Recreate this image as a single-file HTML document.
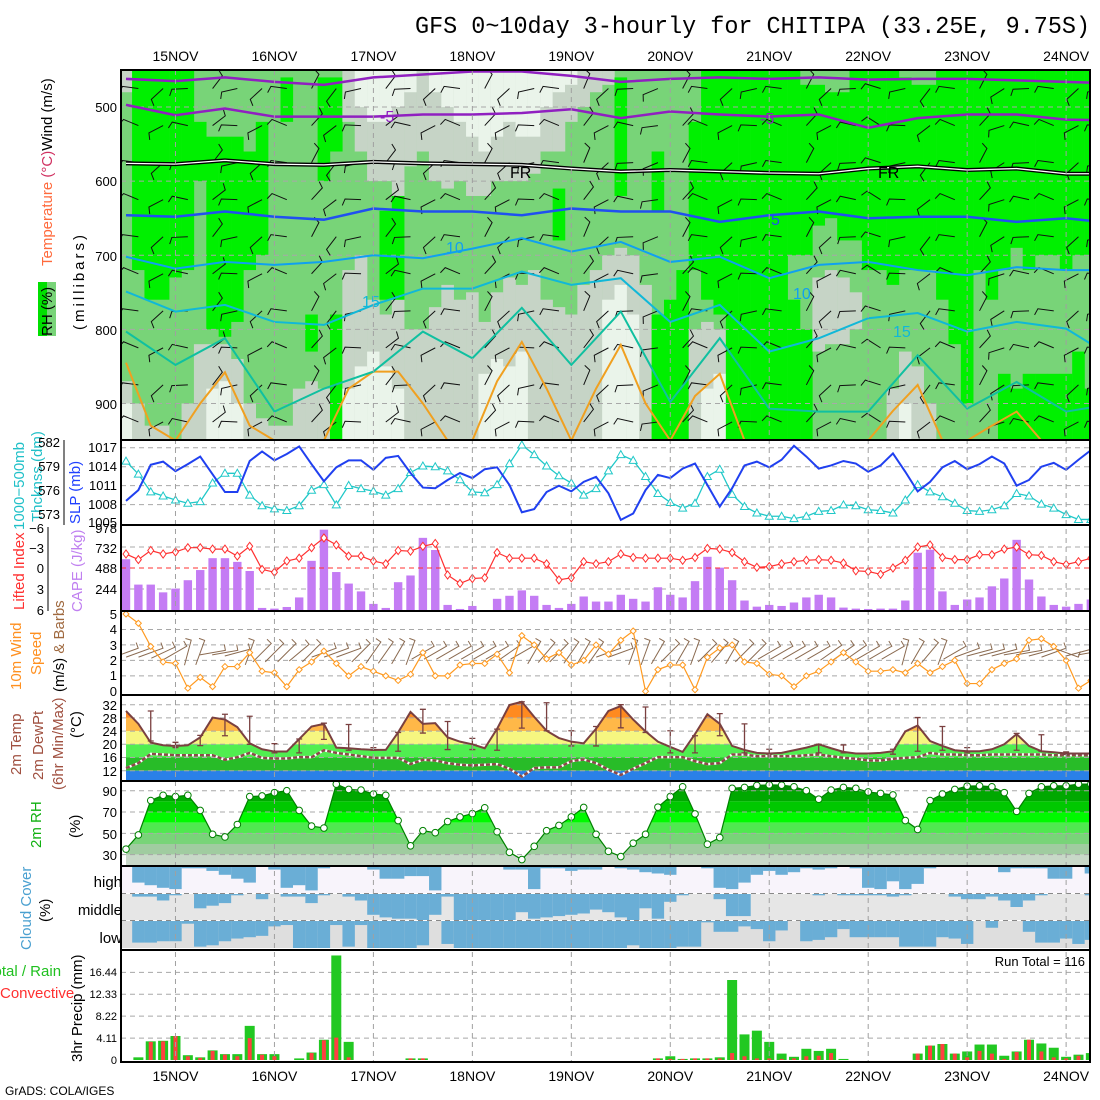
<!DOCTYPE html>
<html><head><meta charset="utf-8">
<style>
body{margin:0;background:#fff}
svg{display:block;font-family:"Liberation Sans",sans-serif}
.tk{font-size:13px;fill:#000}
.tks{font-size:11px;fill:#000}
.lab{font-size:15px}
</style></head><body>
<svg id="c" width="1100" height="1100" viewBox="0 0 1100 1100">
<defs>
<clipPath id="p1clip"><rect x="121" y="70" width="969" height="370"/></clipPath>
<clipPath id="plotclip"><rect x="121" y="440" width="969" height="622"/></clipPath>
</defs>
<rect x="0" y="0" width="1100" height="1100" fill="#fff"/>
<text x="415" y="33" font-family="Liberation Mono, monospace" font-size="24" textLength="675" lengthAdjust="spacingAndGlyphs">GFS 0~10day 3-hourly for CHITIPA (33.25E, 9.75S)</text>
<g id="layers"></g>
<g id="labels" font-size="13">
 <rect x="38" y="282" width="18" height="54" fill="#00e000"/>
 <rect x="47" y="282" width="9" height="54" fill="#78d478"/>
 <text class="lab" transform="translate(52,336) rotate(-90)">RH (%)</text>
 <text class="lab" transform="translate(52,266) rotate(-90)"><tspan fill="#ff6a3c">Temperature </tspan><tspan fill="#d03060">(°C)</tspan><tspan fill="#000">Wind (m/s)</tspan></text>
 <text class="lab" transform="translate(84,330) rotate(-90)" letter-spacing="3">(millibars)</text>
 <text class="tk" x="117" y="112" text-anchor="end">500</text>
 <text class="tk" x="117" y="186" text-anchor="end">600</text>
 <text class="tk" x="117" y="261" text-anchor="end">700</text>
 <text class="tk" x="117" y="335" text-anchor="end">800</text>
 <text class="tk" x="117" y="409" text-anchor="end">900</text>
 <text class="lab" transform="translate(24,530) rotate(-90)" fill="#20c0c8">1000−500mb</text>
 <text class="lab" transform="translate(42,522) rotate(-90)" fill="#20c0c8">Thcknss (dm)</text>
 <text class="lab" transform="translate(80,524) rotate(-90)" fill="#2040ff">SLP (mb)</text>
 <line x1="64" y1="440" x2="64" y2="525" stroke="#000"/>
 <text class="tk" x="60" y="447" text-anchor="end">582</text>
 <text class="tk" x="60" y="471" text-anchor="end">579</text>
 <text class="tk" x="60" y="495" text-anchor="end">576</text>
 <text class="tk" x="60" y="519" text-anchor="end">573</text>
 <text class="tk" x="117" y="452" text-anchor="end">1017</text>
 <text class="tk" x="117" y="471" text-anchor="end">1014</text>
 <text class="tk" x="117" y="490" text-anchor="end">1011</text>
 <text class="tk" x="117" y="509" text-anchor="end">1008</text>
 <text class="tk" x="117" y="527" text-anchor="end">1005</text>
 <text class="lab" transform="translate(24,610) rotate(-90)" fill="#ff3030">Lifted Index</text>
 <text class="lab" transform="translate(82,612) rotate(-90)" fill="#c080f0">CAPE (J/kg)</text>
 <line x1="48" y1="527" x2="48" y2="611" stroke="#000"/>
 <text class="tk" x="44" y="533" text-anchor="end">−6</text>
 <text class="tk" x="44" y="553" text-anchor="end">−3</text>
 <text class="tk" x="44" y="573" text-anchor="end">0</text>
 <text class="tk" x="44" y="594" text-anchor="end">3</text>
 <text class="tk" x="44" y="615" text-anchor="end">6</text>
 <text class="tk" x="117" y="533" text-anchor="end">978</text>
 <text class="tk" x="117" y="553" text-anchor="end">732</text>
 <text class="tk" x="117" y="573" text-anchor="end">488</text>
 <text class="tk" x="117" y="594" text-anchor="end">244</text>
 <text class="lab" transform="translate(21,690) rotate(-90)" fill="#ff9020">10m Wind</text>
 <text class="lab" transform="translate(41,675) rotate(-90)" fill="#ff9020">Speed</text>
 <text class="lab" transform="translate(64,692) rotate(-90)"><tspan fill="#000">(m/s) </tspan><tspan fill="#a06a40">&amp; Barbs</tspan></text>
 <text class="tk" x="117" y="619" text-anchor="end">5</text>
 <text class="tk" x="117" y="634" text-anchor="end">4</text>
 <text class="tk" x="117" y="650" text-anchor="end">3</text>
 <text class="tk" x="117" y="665" text-anchor="end">2</text>
 <text class="tk" x="117" y="680" text-anchor="end">1</text>
 <text class="tk" x="117" y="696" text-anchor="end">0</text>
 <text class="lab" transform="translate(21,775) rotate(-90)" fill="#a05040">2m Temp</text>
 <text class="lab" transform="translate(43,780) rotate(-90)" fill="#a05040">2m DewPt</text>
 <text class="lab" transform="translate(63,790) rotate(-90)" fill="#a05040">(6hr Min/Max)</text>
 <text class="lab" transform="translate(81,738) rotate(-90)">(°C)</text>
 <text class="tk" x="117" y="710" text-anchor="end">32</text>
 <text class="tk" x="117" y="723" text-anchor="end">28</text>
 <text class="tk" x="117" y="736" text-anchor="end">24</text>
 <text class="tk" x="117" y="749" text-anchor="end">20</text>
 <text class="tk" x="117" y="762" text-anchor="end">16</text>
 <text class="tk" x="117" y="776" text-anchor="end">12</text>
 <text class="lab" transform="translate(41,848) rotate(-90)" fill="#10b010">2m RH</text>
 <text class="lab" transform="translate(80,838) rotate(-90)">(%)</text>
 <text class="tk" x="117" y="796" text-anchor="end">90</text>
 <text class="tk" x="117" y="817" text-anchor="end">70</text>
 <text class="tk" x="117" y="839" text-anchor="end">50</text>
 <text class="tk" x="117" y="860" text-anchor="end">30</text>
 <text class="lab" transform="translate(31,950) rotate(-90)" fill="#4aa0d0">Cloud Cover</text>
 <text class="lab" transform="translate(50,922) rotate(-90)">(%)</text>
 <text class="lab" x="122" y="887" text-anchor="end">high</text>
 <text class="lab" x="122" y="915" text-anchor="end">middle</text>
 <text class="lab" x="122" y="943" text-anchor="end">low</text>
 <text class="lab" x="-14" y="976" fill="#20c020">Total / Rain</text>
 <text class="lab" x="0" y="998" fill="#ff3030">Convective</text>
 <text class="lab" transform="translate(82,1062) rotate(-90)">3hr Precip (mm)</text>
 <text class="tks" x="117" y="976" text-anchor="end">16.44</text>
 <text class="tks" x="117" y="998" text-anchor="end">12.33</text>
 <text class="tks" x="117" y="1020" text-anchor="end">8.22</text>
 <text class="tks" x="117" y="1042" text-anchor="end">4.11</text>
 <text class="tks" x="117" y="1064" text-anchor="end">0</text>
 <text x="1085" y="966" font-size="13" text-anchor="end">Run Total = 116</text>
 <text x="5" y="1095" font-size="12">GrADS: COLA/IGES</text>
</g>
</svg>
<script>
const days = ["15NOV","16NOV","17NOV","18NOV","19NOV","20NOV","21NOV","22NOV","23NOV","24NOV"];
const slp = [1008.6,1010.3,1014.3,1014.8,1013.3,1014.4,1015.6,1012.8,1010,1010,1014.9,1016.4,1015,1016,1017.2,1014.4,1011.7,1013.9,1015,1015,1013.5,1015.4,1015.7,1013,1010.7,1010.6,1011.9,1013,1012.2,1013.6,1013.9,1011.1,1006.8,1007.3,1010,
 1011,1010.1,1011.6,1012.4,1009.8,1005.6,1006.6,1010.3,1012.7,1012.2,1013.7,1014.5,1011.1,1007.7,1010.6,1014.2,1014.8,1013.9,1015.1,1017.3,1015.6,1013.7,1014.2,1014.9,1014.5,1013.2,1014.2,1016.1,1013.2,1010.1,1011.6,1013.9,1014.9,1013.6,1014.4,1015.6,1014.5,1011,1011.9,1014,1014.6,1013.5,1015.1,1016.6];
const thick = [579.6,578,575.8,575.3,574.8,574.4,574.6,576.9,578.1,578.1,575.4,574.1,573.7,573.5,574.1,576,576.7,574.2,576.6,576.2,575.9,575.4,576.2,578.2,579,578.9,578.4,577.3,575.8,575.7,576.7,579.3,581.6,580.4,579,
 577.8,576.9,575.4,576.2,578.4,580.4,579.7,577.7,575.6,574.5,573.8,574.4,577.7,578.6,575.5,574,573.2,572.8,572.8,572.5,572.8,573.4,573.5,574.2,574.1,573.6,573.5,573.2,574.8,576.7,575.8,575.2,574.4,573.5,573.4,573.6,574.1,575.6,575.3,574.3,573.8,573,572.4,572.4];
const liftedIndex = [-2.0,-1.2,-2.5,-2.0,-2.3,-2.9,-2.9,-2.7,-2.7,-1.7,-3.1,0.2,0.6,-1.0,-1.4,-2.9,-4.3,-3.3,-1.7,-1.7,-1.0,-0.6,-2.5,-2.4,-3.1,-3.5,1.0,2.2,1.5,1.4,-2.2,-1.4,-1.4,-1.4,-0.6,
 1.7,1.4,-0.9,-0.6,-0.9,-2.0,-1.5,-1.4,-1.4,-1.4,-1.1,-1.5,-2.8,-2.7,-2.2,-0.9,-0.1,-0.2,-0.6,-0.9,-1.1,-1.2,-1.1,-0.7,0.4,0.5,0.9,0,-1.1,-3.0,-3.3,-1.5,-1.2,-1.2,-1.9,-1.9,-2.7,-3.0,-1.9,-1.8,-0.9,-0.5,-0.9,-1.4];
const cape = [590,295,295,205,248,346,464,602,602,559,453,24,16,35,146,571,933,441,307,216,71,24,323,401,838,697,59,12,47,0,130,165,228,165,59,24,71,157,98,
 98,177,130,98,264,177,146,335,618,492,346,110,39,59,47,87,146,177,146,28,16,12,16,16,110,665,700,216,59,122,146,275,366,815,354,157,59,39,71,122];
const windSpeed = [5.0,4.4,2.9,1.9,1.8,0.2,0.9,0.3,1.6,1.6,2.5,1.3,1.2,0.3,1.4,1.9,2.6,1.8,1.0,1.6,1.3,1.0,0.7,1.1,2.5,1.0,1.0,1.7,1.8,1.8,2.4,1.2,3.6,3.0,2.1,2.5,1.7,2.0,3.0,2.4,3.3,3.9,0.0,1.4,1.7,1.7,0.1,2.2,2.8,3.0,1.9,1.8,1.1,1.0,0.3,1.0,1.3,1.9,2.5,1.9,1.3,1.3,1.4,1.2,1.8,1.2,1.6,2.0,0.5,0.5,1.4,1.8,2.1,3.3,3.4,2.9,2.0,0.2,0.7];
const windAngle = [20,20,20,25,30, 75,70,10,10, 15,70,45,45, 45,40,45,20, 20,20,45,55, 55,60,70,30, 30,30,30,30, 30,30,35,30, 60,50,45,55, 60,55,20,20, 70,70,60,45, 60,70,45,50, 60,45,45,30, 30,30,30,30, 35,35,35,30, 30,30,75,60, 50,70,30,20, 15,15,15,10, 10,15,20,-20, 15,10];
const temp2m = [30.1,26.2,20.5,19.7,19.5,19.7,22.1,28.1,27.5,25.2,20.3,18.5,17.8,17.8,21.6,25.4,26.2,19.0,18.8,18.5,18.3,18.3,23.6,29.8,26.2,26.4,22.1,20.8,20.0,18.8,24.7,31.9,32.9,28.3,24.1,21.9,
 20.8,20.3,24.7,30.1,31.6,27.5,23.9,20.8,19.2,17.7,23.1,29.1,26.2,19.5,18.3,17.4,17.2,17.4,18.2,19.0,20.0,18.8,17.7,17.2,17.2,17.4,17.9,23.9,25.7,21.0,19.5,18.2,17.9,17.9,18.5,20.0,23.1,19.5,17.9,17.6,17.2,17.2,17.2];
const dew2m = [12.8,14.3,17.1,16.9,16.7,16.7,16.7,16.7,15.3,16.1,17.4,15.9,15.7,15.7,16.1,16.1,18.2,17.4,16.9,16.4,15.9,15.9,15.9,14.0,15.3,15.1,14.3,13.8,13.6,13.8,14.0,12.6,10.2,12.8,13.0,13.0,
 14.9,15.4,14.3,12.3,10.7,12.6,14.3,16.1,16.1,16.1,14.9,14.0,14.3,16.9,16.9,16.4,16.4,16.4,16.4,16.7,16.9,16.4,15.9,15.6,15.1,15.1,15.6,15.9,16.1,17.4,16.9,16.9,16.7,16.7,16.9,16.9,16.9,16.9,16.9,16.7,16.7,16.7,16.7];
const mmIdx = [2,4,6,8,10,12,14,16,18,20,22,24,26,28,30,32,34,36,38,40,42,44,46,48,50,52,56,58,62,64,66,68,72,74,76];
const mmMax = [30.1,20.6,22.7,29.1,28.5,20.2,21.6,26.4,26.0,19.0,23.6,30.6,26.9,21.8,24.6,32.9,32.6,24.1,25.4,32.0,31.3,24.1,22.6,29.3,26.2,18.5,20.0,19.8,18.5,28.1,25.4,19.0,23.3,22.9,17.7];
const mmMin = [21.0,19.0,19.6,22.6,20.0,17.4,17.4,21.5,18.2,18.2,17.9,23.4,18.4,18.4,18.2,24.9,24.1,19.5,19.5,25.0,23.6,17.4,17.4,22.6,17.4,17.0,17.4,17.4,17.0,17.9,18.2,17.4,18.2,17.9,16.9];
const rh2m = [35.2,48.5,80.8,85.7,84.5,85.7,71.5,49.1,46.6,58.3,84.5,85.1,88.2,90,71.5,56.8,55.0,96.2,91.2,90.6,86.9,85.7,62.0,38.3,52.5,50.6,61.1,65.4,68.5,74.0,51.5,32.2,25.4,37.8,52.5,57.4,65.4,74.3,49.1,
 33.1,28.2,40.8,49.1,74.6,84.5,93.7,68.2,39.8,46.0,92.2,93.1,94.9,95.5,95.2,93.7,90,82,90.6,93.1,92.2,88.8,87.5,86,62,53.7,80.8,86.9,91.2,94.3,94.6,93.7,88.2,70.6,87.5,93.7,94.6,94.6,96.2,96.2];
const cloudHigh = [0.6,0.7,0.8,0.85,0.05,0.05,0.15,0.3,0.45,0.6,0,0.1,0.8,0.7,0.9,0.05,0,0,0,0.1,0.45,0.45,0.35,0.35,0.9,0,0,0,0,0,0.1,0.1,0.85,0.05,0.05,0.15,0.1,0.1,0,0.05,0.1,0.2,0.25,0.3,0,0,0.05,0.8,0.85,0.6,0.3,0.15,0.3,0.2,0.05,0.1,0.05,0,0.05,0.8,0.85,0.55,0.85,0.65,0.05,0,0,0,0,0,0.2,0.05,0.05,0.05,0.45,0.45,0,0.25,0.05];
const cloudMid = [0.1,0.1,0.25,0.05,0,0.55,0.45,0.35,0.05,0,0.2,0,0.1,0.1,0.35,0.05,0,0.1,0.25,0.8,0.9,0.95,0.95,1,0.8,0.1,1,1,1,1,1,0.7,0.95,0.9,0.85,0.8,0.75,0.6,0.7,0.9,1,0.55,0.95,0.3,0.05,0,0,0.2,0.85,0.85,0,0,0,0,0,0.05,0,0.05,0.05,0.05,0.05,0.1,0.05,0,0,0,0.1,0.2,0.2,0.1,0.25,0.5,0.25,0.05,0,0,0,0.05,0];
const cloudLow = [0.8,0.8,0.75,0.75,0.1,0.95,0.9,0.75,0.65,0.6,0.55,0.2,0.15,1,1,1,0.15,0.95,0.15,1,1,1,1,0.9,0,0.85,1,1,1,1,1,1,1,1,1,1,1,1,1,1,0.9,1,1,1,0.95,0.95,0.05,0.4,0.4,0.2,0.3,0.75,0.35,0,0.75,0.7,0.6,0.3,0.6,0.6,0.6,0.6,0.95,0.95,0.95,0.6,0.65,0.85,0,0.25,0,0,0.4,0.8,0.8,0.65,0.85,0.7,0.5];
const precipTotal = [0,0.5,3.5,3.6,4.5,0.9,0.5,1.8,1.1,1.1,6.4,1.1,1.1,0,0.3,1.4,3.8,19.6,3.4,0,0,0,0,0.3,0.3,0,0,0,0,0,0,0,0,0,0,0,0,0,0,0,0,0,0,0.3,0.7,0.2,0.3,0.3,0.5,15,4.8,5.5,3.4,1.2,0.6,2.1,1.7,2.1,0.2,0,0,0,0,0,1.2,2.7,3.0,1.2,1.6,2.9,2.9,0.8,1.6,3.8,3.1,2.3,0.6,1.0,1.3];
const precipConv = [0,0,3.4,3.5,4.5,0.7,0.4,1.7,1.0,0.7,4.1,1.0,0.7,0,0,1.3,3.7,4.2,0.5,0,0,0,0,0.3,0.3,0,0,0,0,0,0,0,0,0,0,0,0,0,0,0,0,0,0,0.3,0.2,0.2,0.3,0.3,0.3,1.3,0.7,0.3,0.3,0.2,0.3,0.7,0.8,1.3,0,0,0,0,0,0,1.2,2.7,3.0,1.2,0.5,1.7,1.2,0.2,1.5,3.8,1.6,0.5,0.3,0.8,0];
const topGray = [480,0,0,0,0,0,0,0,0,0,0,0,0,0,0,0,0,0,520,560,600,600,620,580,560,600,610,600,620,620,600,600,600,590,560,560,520,500,480,470,0,0,0,0,0,0,0,0,0,0,0,0,0,0,0,0,0,0,0,0,0,0,0,0,0,0,0,0,0,0,0,0,0,0,0,0,0,0,0];
const topLight = [0,0,0,0,0,0,0,0,0,0,0,0,0,0,0,0,0,0,0,500,520,520,500,480,0,480,500,520,540,560,540,520,540,540,500,480,470,0,0,0,0,0,0,0,0,0,0,0,0,0,0,0,0,0,0,0,0,0,0,0,0,0,0,0,0,0,0,0,0,0,0,0,0,0,0,0,0,0,0];
const brightTop = [0,450,450,450,450,450,520,540,540,540,560,520,0,460,0,780,460,460,0,0,0,640,620,0,0,0,0,0,0,0,0,0,0,0,0,610,0,0,0,0,460,0,0,560,0,0,520,450,450,450,450,450,450,450,450,470,470,480,480,450,450,450,450,460,470,470,450,450,450,450,450,450,450,450,450,450,450,450,450];
const brightBot = [0,720,760,760,730,720,600,800,810,790,720,700,0,520,0,830,600,560,0,0,0,760,760,0,0,0,0,0,0,0,0,0,0,0,0,680,0,0,0,0,620,0,0,640,0,0,720,760,780,950,950,950,950,950,700,700,660,650,680,680,720,720,740,720,720,720,760,820,900,720,760,720,690,720,700,700,720,700,700];
const bright2Top = [0,0,0,0,0,0,0,0,0,0,0,0,0,0,0,0,0,780,0,0,0,0,0,0,0,0,0,0,0,0,0,0,0,0,0,0,0,0,0,0,0,0,0,780,760,720,0,0,0,0,0,0,0,0,760,800,0,0,0,0,0,0,0,0,0,0,0,0,0,0,0,860,880,860,860,860,860,830,880];
const grayBot = [870,900,930,930,0,900,820,820,820,840,900,920,930,930,880,870,880,0,720,700,760,780,760,800,800,770,740,760,750,790,750,730,740,720,760,770,780,740,720,700,690,700,740,0,0,0,800,790,800,0,0,0,0,0,0,0,0,0,0,0,0,0,880,830,850,900,0,0,0,0,0,0,0,0,0,0,0,0,0];
const lightBot = [900,0,0,0,0,0,0,880,870,900,0,0,0,0,0,0,0,0,880,850,830,850,880,0,0,0,0,0,0,860,840,850,830,0,0,0,0,0,0,760,740,780,0,0,0,0,0,880,860,0,0,0,0,0,0,0,0,0,0,0,0,0,0,900,0,0,0,0,0,0,0,0,0,0,0,0,0,0,0];
const midGrayTop = [0,0,0,0,0,0,0,0,0,0,0,0,0,0,0,0,0,0,0,0,0,0,0,0,0,0,0,0,0,0,0,0,0,0,0,0,0,0,0,0,0,0,0,0,0,0,0,0,0,0,0,0,0,0,0,0,730,720,730,750,0,0,0,0,0,0,0,0,0,0,0,0,0,0,0,0,0,0,0];
const midGrayBot = [0,0,0,0,0,0,0,0,0,0,0,0,0,0,0,0,0,0,0,0,0,0,0,0,0,0,0,0,0,0,0,0,0,0,0,0,0,0,0,0,0,0,0,0,0,0,0,0,0,0,0,0,0,0,0,0,830,820,820,800,0,0,0,0,0,0,0,0,0,0,0,0,0,0,0,0,0,0,0];
const isoTopPurple = [462,465,460,466,470,460,456,452,452,458,466,462,460,462,460,463,462,462,464,466,468];
const isoMinus5 = [497,511,502,513,513,513,510,510,508,503,515,506,510,513,510,528,515,510,510,517,518];
const isoFreeze = [576,577,572,577,578,574,576,577,578,583,587,585,587,589,590,583,580,585,583,590,590];
const isoPlus5 = [646,648,641,648,652,637,641,641,646,637,641,641,655,646,641,650,648,648,655,650,657];
const isoPlus10 = [702,718,709,713,709,700,704,691,677,695,682,709,702,731,713,709,720,727,716,720,720];
const isoPlus15 = [749,776,767,790,794,767,745,745,722,740,731,790,767,830,812,785,778,803,790,799,840];
const isoPlus18 = [803,848,812,911,880,857,803,839,771,848,776,898,812,907,911,911,835,907,871,911,900];
const isoPlus20 = [845,930,950,900,858,930,950,950,950,880,857,857,900,950,950,870,817,880,950,880,821,900,950,890,860,950,950,950,950,950,950,910,875,950,950,930,911,950,950,950];
const barbAngle = [150,200,160,30,170,200,150,40,210,170,30,160,200,150,40,200,170,150,45,200,160,180,40,150,200,170,150,40,200,160,140,170,210,150,40,190,160,150,200,170];

const svg = document.getElementById('c');
const layers = document.getElementById('layers');
const NS = 'http://www.w3.org/2000/svg';
function mk(tag, attrs, parent){const e=document.createElementNS(NS,tag);for(const k in attrs)e.setAttribute(k,attrs[k]);(parent||layers).appendChild(e);return e;}
const X = i => 126 + 12.37*i;
const Pp = p => 70 + (p-450)*0.741;
const Yslp = v => 447.7 + (1017-v)*6.33;
const Yth = v => 441.7 + (582-v)*8.1;
const Ycape = v => 610 - v*0.0861;
const Yli = v => 568 + v*7;
const Yws = v => 691.3 - v*15.46;
const Yt = v => 704.7 + (32-v)*3.3;
const Yrh = v => 790.7 + (90-v)*1.066;
const Ypr = v => 1060 - v*5.333;
const N = temp2m.length;

const g1 = mk('g',{'clip-path':'url(#p1clip)'});


const bg1 = mk('rect',{x:121,y:70,width:969,height:370,fill:'#78d478'},g1);


function col(i,p0,p1,fill,name){
  const r = mk('rect',{x:X(i)-6.3,y:Pp(p0),width:12.6,height:Math.max(0,Pp(p1)-Pp(p0)),fill:fill},g1);
  
  
}
for(let i=0;i<N;i++){
  if(topGray[i]) col(i,440,topGray[i],'#c6d4c6','rh-dry-upper');
  if(topLight[i]) col(i,440,topLight[i],'#eaf4ea','rh-very-dry-upper');
  if(grayBot[i]) col(i,grayBot[i],960,'#c6d4c6','rh-dry-lower');
  if(lightBot[i]) col(i,lightBot[i],960,'#eaf4ea','rh-very-dry-lower');
  if(midGrayTop[i]) col(i,midGrayTop[i],midGrayBot[i],'#c6d4c6','rh-dry-mid');
  if(brightTop[i]) col(i,brightTop[i],brightBot[i],'#00f000','rh-moist');
  if(bright2Top[i]) col(i,bright2Top[i],960,'#00f000','rh-moist-lower');
}
[500,600,700,800,900].forEach(p=>{
  const l=mk('line',{x1:121,x2:1090,y1:Pp(p),y2:Pp(p),stroke:'#a8a8a8','stroke-dasharray':'5,4'},g1);
  
  
});
const barbG = mk('g',{stroke:'#111','stroke-width':1,fill:'none'},g1);


for(let k=0;k<barbAngle.length;k++){
  for(let p=475;p<=925;p+=50){
    const a=(barbAngle[k]+((p/50)%2)*15)*Math.PI/180;
    const x0=X(2*k+1), y0=Pp(p);
    const x1=x0+16*Math.cos(a), y1=y0-16*Math.sin(a);
    const b=a+Math.PI/2.6;
    const pl=mk('polyline',{points:`${x0},${y0} ${x1},${y1} ${x1+7*Math.cos(b)},${y1-7*Math.sin(b)}`},barbG);
    
    
  }
}
function isoLine(arr,step,color,w,name){
  const pts=arr.map((p,k)=>`${X(k*step)},${Pp(p)}`).join(' ');
  const l=mk('polyline',{points:pts,fill:'none',stroke:color,'stroke-width':w},g1);
  
  
  return l;
}
isoLine(isoPlus20,2,'#f0a020',2,'isotherm-20');
isoLine(isoPlus18,4,'#10c0a0',2,'isotherm-18');
isoLine(isoPlus15,4,'#10b8d8',2,'isotherm-15');
isoLine(isoPlus10,4,'#10a0f0',2,'isotherm-10');
isoLine(isoPlus5,4,'#2050f0',2.5,'isotherm-5');
isoLine(isoFreeze,4,'#000',4,'freezing-level');
isoLine(isoFreeze,4,'#fff',1.3,'freezing-level-inner');
isoLine(isoMinus5,4,'#9020c0',2.5,'isotherm-minus5');
isoLine(isoTopPurple,4,'#9020c0',2.5,'isotherm-minus10');
[['-5',380,122,'#9020c0'],['-5',760,124,'#9020c0'],['FR',510,178,'#000'],['FR',878,178,'#000'],['5',771,225,'#2050f0'],['10',446,253,'#10a0f0'],['10',793,299,'#10a0f0'],['15',362,307,'#10b8d8'],['15',893,337,'#10b8d8']].forEach(d=>{
  const t=mk('text',{x:d[1],y:d[2],fill:d[3],'font-size':16,stroke:'none'},g1);
  t.textContent=d[0];
  
  
});

const g2 = mk('g',{'clip-path':'url(#plotclip)'});


function hgrid(y,x1,name,color){
  const l=mk('line',{x1:121,x2:1090,y1:y,y2:y,stroke:color||'#a8a8a8','stroke-dasharray':'5,4'},g2);
  
  
}
const defs = svg.querySelector('defs');
const cpT = mk('clipPath',{id:'tclip'},defs);
mk('polygon',{points:`${X(0)},781 `+temp2m.map((v,i)=>`${X(i)},${Yt(v)}`).join(' ')+` ${X(N-1)},781`},cpT);
const tb = mk('g',{'clip-path':'url(#tclip)'},g2);


[[40,32,'#f06010'],[32,28,'#ff8a20'],[28,24,'#ffb848'],[24,20,'#f6f680'],[20,16,'#50ee50'],[16,12,'#28bc28'],[12,0,'#2a80e8']].forEach(b=>{
  const r=mk('rect',{x:121,width:969,y:Yt(b[0]),height:Yt(b[1])-Yt(b[0]),fill:b[2]},tb);
  
  
});
const cpR = mk('clipPath',{id:'rclip'},defs);
mk('polygon',{points:`${X(0)},866 `+rh2m.map((v,i)=>`${X(i)},${Yrh(v)}`).join(' ')+` ${X(N-1)},866`},cpR);
const rb = mk('g',{'clip-path':'url(#rclip)'},g2);


[[110,90,'#008c00'],[90,80,'#00a800'],[80,70,'#00c800'],[70,60,'#00fa00'],[60,50,'#50e850'],[50,40,'#78d478'],[40,30,'#a0cca0'],[30,0,'#c8d8c8']].forEach(b=>{
  const r=mk('rect',{x:121,width:969,y:Yrh(b[0]),height:Yrh(b[1])-Yrh(b[0]),fill:b[2]},rb);
  
  
});
[[867,893,'#f8f4fb',cloudHigh,'cloud-high'],[894,920,'#e6e6e6',cloudMid,'cloud-middle'],[921,948,'#dedede',cloudLow,'cloud-low']].forEach(r=>{
  const bgr=mk('rect',{x:121,y:r[0],width:969,height:r[1]-r[0],fill:r[2]},g2);
  
  
  r[3].forEach((v,i)=>{
    if(v<=0) return;
    const b=mk('rect',{x:X(i+1)-6.2,y:r[0],width:12.4,height:(r[1]-r[0])*v,fill:'#6aaed6'},g2);
    
    
  });
});
[893.5,920.5].forEach(y=>hgrid(y,0,'cloud-row-divider','#888'));
[1017,1014,1011,1008].forEach(v=>hgrid(Yslp(v),0,'slp-gridline'));
[732,488,244].forEach(v=>hgrid(Ycape(v),0,'cape-gridline'));
[1,2,3,4].forEach(v=>hgrid(Yws(v),0,'wind-gridline'));
[32,28,24,20,16,12].forEach(v=>hgrid(Yt(v),0,'temp-gridline'));
[90,70,50,30].forEach(v=>hgrid(Yrh(v),0,'rh-gridline'));
[16.44,12.33,8.22,4.11].forEach(v=>hgrid(Ypr(v),0,'precip-gridline'));
days.forEach((d,k)=>{
  const x=X(4+8*k);
  const l=mk('line',{x1:x,x2:x,y1:70,y2:1062,stroke:'#a0a0a0','stroke-dasharray':'5,4'});
  
  
  const t1=mk('text',{x:x,y:61,'font-size':14,'text-anchor':'middle'});
  t1.textContent=d;
  
  
  const t2=mk('text',{x:x,y:1081,'font-size':14,'text-anchor':'middle'});
  t2.textContent=d;
  
  
});
const thL=mk('polyline',{points:thick.map((v,i)=>`${X(i)},${Yth(v)}`).join(' '),fill:'none',stroke:'#20c8c8','stroke-width':1.3},g2);


thick.forEach((v,i)=>{
  const y=Yth(v),x=X(i);
  const m=mk('polygon',{points:`${x},${y-4} ${x-4},${y+3} ${x+4},${y+3}`,fill:'#fff',stroke:'#20c8c8'},g2);
  
  
});
const slpL=mk('polyline',{points:slp.map((v,i)=>`${X(i)},${Yslp(v)}`).join(' '),fill:'none',stroke:'#2040f0','stroke-width':2},g2);


cape.forEach((v,i)=>{
  const b=mk('rect',{x:X(i)-4.2,y:Ycape(v),width:8.4,height:610-Ycape(v),fill:'#c47cf4'},g2);
  
  
});
hgrid(Yli(0),0,'li-zero-line','#ff3030');
const liL=mk('polyline',{points:liftedIndex.map((v,i)=>`${X(i)},${Yli(v)}`).join(' '),fill:'none',stroke:'#ff3030','stroke-width':1.2},g2);


liftedIndex.forEach((v,i)=>{
  const x=X(i),y=Yli(v);
  const m=mk('polygon',{points:`${x-3},${y} ${x},${y-4} ${x+3},${y} ${x},${y+4}`,fill:'#fff',stroke:'#ff3030'},g2);
  
  
});
windAngle.forEach((a,i)=>{
  const r=a*Math.PI/180, x=X(i), y=Yws(2.5);
  const dx=13*Math.cos(r), dy=13*Math.sin(r);
  const b=mk('polyline',{points:`${x-dx},${y+dy} ${x+dx},${y-dy} ${x+dx-6*Math.sin(r)},${y-dy-6*Math.cos(r)}`,fill:'none',stroke:'#8a6a50','stroke-width':1},g2);
  
  
});
const wsL=mk('polyline',{points:windSpeed.map((v,i)=>`${X(i)},${Yws(v)}`).join(' '),fill:'none',stroke:'#ff9a20','stroke-width':1.2},g2);


windSpeed.forEach((v,i)=>{
  const x=X(i),y=Yws(v);
  const m=mk('polygon',{points:`${x-3},${y} ${x},${y-3} ${x+3},${y} ${x},${y+3}`,fill:'#fff',stroke:'#ff9a20'},g2);
  
  
});
const dwW=mk('polyline',{points:dew2m.map((v,i)=>`${X(i)},${Yt(v)}`).join(' '),fill:'none',stroke:'#fff','stroke-width':2.5},g2);


const dw=mk('polyline',{points:dew2m.map((v,i)=>`${X(i)},${Yt(v)}`).join(' '),fill:'none',stroke:'#8a4a4a','stroke-width':2.5,'stroke-dasharray':'4,2'},g2);


const tl=mk('polyline',{points:temp2m.map((v,i)=>`${X(i)},${Yt(v)}`).join(' '),fill:'none',stroke:'#7a4040','stroke-width':2},g2);


mmIdx.forEach((i,k)=>{
  const x=X(i), y1=Yt(mmMax[k]), y2=Yt(mmMin[k]);
  const w=mk('path',{d:`M${x-3},${y1}H${x+3}M${x},${y1}V${y2}M${x-3},${y2}H${x+3}`,stroke:'#7a4040','stroke-width':1.3,fill:'none'},g2);
  
  
});
const rl=mk('polyline',{points:rh2m.map((v,i)=>`${X(i)},${Yrh(v)}`).join(' '),fill:'none',stroke:'#008000','stroke-width':1.2},g2);


rh2m.forEach((v,i)=>{
  const c=mk('circle',{cx:X(i),cy:Yrh(v),r:3.3,fill:'#fff',stroke:'#008000'},g2);
  
  
});
precipTotal.forEach((v,i)=>{
  if(v<=0) return;
  const b=mk('rect',{x:X(i)-5,y:Ypr(v),width:10,height:1060-Ypr(v),fill:'#22c822'},g2);
  
  
  const c=precipConv[i];
  if(c>0){
    const r=mk('rect',{x:X(i)-2,y:Ypr(c),width:4,height:1060-Ypr(c),fill:'#ff4040'},g2);
    
    
  }
});
[[70,440],[440,525],[525,611],[611,695],[695,781],[781,866],[866,950],[950,1062]].forEach(p=>{
  const f=mk('rect',{x:121,y:p[0],width:969,height:p[1]-p[0],fill:'none',stroke:'#000','stroke-width':2});
  
  
});
</script>
</body></html>
